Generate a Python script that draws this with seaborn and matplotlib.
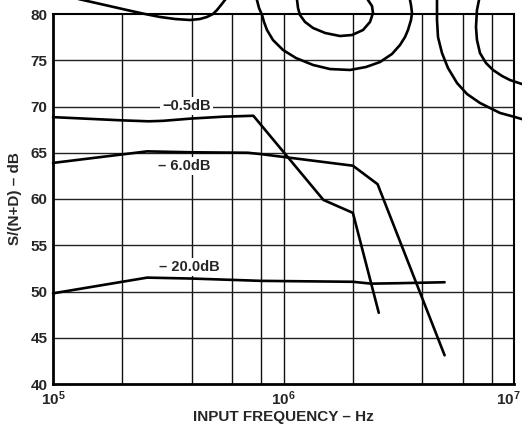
import numpy as np
import pandas as pd
import matplotlib
matplotlib.use("Agg")
import matplotlib.pyplot as plt
import matplotlib.transforms as mtransforms
import seaborn as sns

# ---- data ----
freq_05 = [1e5, 2.0e5, 2.6e5, 3.0e5, 4.0e5, 5.5e5, 7.4e5, 1.49e6, 2.0e6, 2.59e6]
sn_05 = [68.85, 68.5, 68.4, 68.45, 68.7, 68.9, 69.0, 59.9, 58.5, 47.7]

freq_60 = [1e5, 2.56e5, 4.0e5, 7.0e5, 8.0e5, 2.0e6, 2.56e6, 5.0e6]
sn_60 = [63.9, 65.15, 65.05, 65.0, 64.85, 63.6, 61.6, 43.1]

freq_200 = [1e5, 2.56e5, 4.0e5, 8.0e5, 2.0e6, 2.4e6, 3.2e6, 5.0e6]
sn_200 = [49.8, 51.5, 51.4, 51.15, 51.05, 50.85, 50.9, 51.0]

series_labels = ["\u22120.5dB", "\u2013 6.0dB", "\u2013 20.0dB"]
label_freq = [3.8e5, 3.7e5, 3.9e5]
label_sn = [70.05, 63.6, 52.6]

# contour-like curves overlapping the top of the chart
c1_f = [1.083e5, 1.349e5, 1.681e5, 2.094e5, 2.507e5, 2.912e5, 3.383e5, 3.930e5,
        4.341e5, 4.656e5, 4.943e5, 5.146e5, 5.357e5, 5.572e5, 5.745e5]
c1_v = [82.05, 81.51, 80.97, 80.43, 80.0, 79.68, 79.46, 79.35,
        79.46, 79.68, 80.0, 80.43, 80.97, 81.51, 82.05]
c2_f = [7.52e5, 7.67e5, 7.83e5, 8.07e5, 8.23e5, 8.48e5, 9.00e5, 9.95e5, 1.133e6,
        1.343e6, 1.591e6, 1.944e6, 2.280e6, 2.623e6, 2.956e6, 3.202e6, 3.366e6,
        3.468e6, 3.574e6, 3.610e6, 3.574e6, 3.539e6, 3.504e6]
c2_v = [82.05, 81.51, 80.65, 79.89, 79.14, 78.27, 77.19, 76.11, 75.24,
        74.49, 74.05, 73.95, 74.27, 74.81, 75.68, 76.65, 77.51,
        78.27, 79.35, 80.11, 80.97, 81.51, 82.05]
c3_f = [1.133e6, 1.145e6, 1.156e6, 1.179e6, 1.240e6, 1.343e6, 1.514e6, 1.758e6,
        1.983e6, 2.213e6, 2.373e6, 2.445e6, 2.421e6, 2.326e6, 2.280e6]
c3_v = [82.05, 81.51, 80.65, 79.89, 79.14, 78.49, 77.95, 77.62,
        77.73, 78.27, 79.14, 80.11, 80.86, 81.51, 82.05]
c4_f = [4.634e6, 4.634e6, 4.634e6, 4.680e6, 4.871e6, 5.172e6, 5.659e6, 6.254e6,
        7.119e6, 8.698e6, 1.010e7, 1.116e7]
c4_v = [82.05, 80.97, 79.35, 77.51, 75.78, 74.16, 72.54, 71.35,
        70.38, 69.30, 68.86, 68.54]
c5_f = [7.119e6, 6.908e6, 6.840e6, 6.908e6, 7.119e6, 7.559e6, 8.105e6, 8.872e6,
        9.61e6, 1.116e7]
c5_v = [82.05, 80.43, 78.59, 77.19, 75.78, 74.70, 73.95, 73.30, 72.86, 72.32]

x_ticks = [1e5, 1e6, 1e7]
x_ticklabels = ["10$^{5}$", "10$^{6}$", "10$^{7}$"]
x_grid = [2e5, 4e5, 6e5, 8e5, 1e6, 2e6, 4e6, 6e6, 8e6]
y_ticks = [40, 45, 50, 55, 60, 65, 70, 75, 80]

# ---- style ----
sns.set_style("white")
plt.rcParams["font.family"] = ["Liberation Sans", "DejaVu Sans"]
plt.rcParams["font.weight"] = "bold"
plt.rcParams["mathtext.default"] = "bf"
plt.rcParams["mathtext.fontset"] = "custom"
plt.rcParams["mathtext.bf"] = "Liberation Sans:bold"

fig = plt.figure(figsize=(5.22, 4.30), dpi=100)
ax = fig.add_axes([53 / 522, 1 - 384 / 430, 461 / 522, 370 / 430])
ax.set_xscale("log")
ax.set_xlim(1e5, 1e7)
ax.set_ylim(40, 80)

# grid
for xv in x_grid:
    ax.axvline(xv, color="#111111", lw=1.0, zorder=1)
for yv in y_ticks[1:-1]:
    ax.axhline(yv, color="#222222", lw=1.0, zorder=1)

lw = 1.9
for f, v in [(freq_05, sn_05), (freq_60, sn_60), (freq_200, sn_200)]:
    sns.lineplot(x=f, y=v, ax=ax, color="black", lw=lw, sort=False,
                 estimator=None, zorder=3)

for f, v in [(c1_f, c1_v), (c2_f, c2_v), (c3_f, c3_v), (c4_f, c4_v), (c5_f, c5_v)]:
    sns.lineplot(x=f, y=v, ax=ax, color="black", lw=lw, sort=False,
                 estimator=None, zorder=4)
for l in ax.get_lines():
    if len(l.get_xdata()) > 2:
        l.set_clip_on(False)
    l.set_solid_joinstyle("round")

for t, f, v in zip(series_labels, label_freq, label_sn):
    ax.text(f, v, t, ha="center", va="center", fontsize=10.5, fontweight="bold",
            zorder=5, bbox=dict(facecolor="white", edgecolor="none", pad=1.5))

ax.set_xticks(x_ticks)
ax.set_xticklabels(x_ticklabels)
ax.xaxis.set_minor_locator(matplotlib.ticker.NullLocator())
ax.set_yticks(y_ticks)
ax.tick_params(axis="both", length=0, labelsize=11)
ax.tick_params(axis="y", pad=4)
ax.tick_params(axis="x", pad=4)
for lab in ax.get_xticklabels() + ax.get_yticklabels():
    lab.set_fontweight("bold")
last = ax.get_xticklabels()[-1]
last.set_transform(last.get_transform() +
                   mtransforms.ScaledTranslation(-6 / 100, 0, fig.dpi_scale_trans))

ax.set_xlabel("INPUT FREQUENCY \u2013 Hz", fontsize=11, fontweight="bold", labelpad=1)
ax.set_ylabel("S/(N+D) \u2013 dB", fontsize=11, fontweight="bold", labelpad=6)

for s in ["left", "bottom"]:
    ax.spines[s].set_linewidth(2.0)
for s in ["top", "right"]:
    ax.spines[s].set_linewidth(1.5)
for s in ax.spines.values():
    s.set_color("black")
    s.set_zorder(6)

fig.savefig("out.png", dpi=100)
